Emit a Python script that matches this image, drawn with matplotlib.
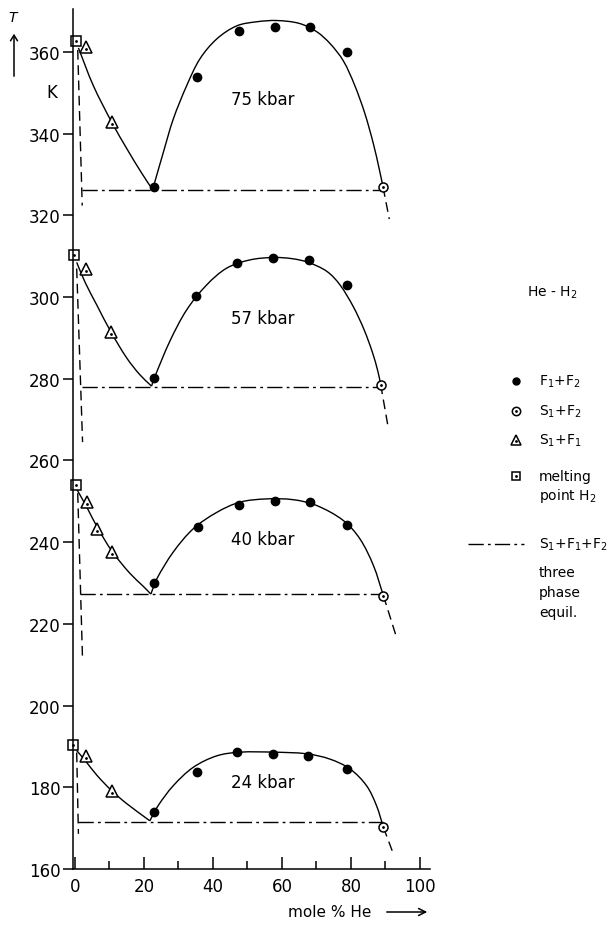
import numpy as np
import matplotlib
matplotlib.use("Agg")
import matplotlib.pyplot as plt
from matplotlib.path import Path
from matplotlib.patches import PathPatch, FancyArrowPatch
from matplotlib.lines import Line2D
from matplotlib.ticker import MultipleLocator

plt.rcParams["font.family"] = ["DejaVu Sans"]
plt.rcParams["mathtext.fontset"] = "dejavusans"

# phase diagram He-H2 at four pressures (top to bottom)
pressure_labels = ["75 kbar", "57 kbar", "40 kbar", "24 kbar"]

# melting point of pure H2
melt_x = [0.2, -0.4, 0.3, -0.6]
melt_T = [362.6, 310.2, 254.0, 190.4]

# S1 + F1 (solid H2 + H2-rich fluid)
s1f1_x = [[3.2, 10.6], [3.2, 10.4], [3.6, 6.5, 10.8], [3.1, 10.6]]
s1f1_T = [[361.2, 342.9], [306.9, 291.5], [249.9, 243.3, 237.7], [187.6, 179.2]]

# F1 + F2 (fluid-fluid demixing)
f1f2_x = [[23.0, 35.5, 47.4, 57.9, 68.1, 78.9],
          [22.9, 35.0, 47.0, 57.5, 67.7, 78.7],
          [23.0, 35.6, 47.6, 58.0, 68.1, 78.9],
          [23.0, 35.3, 47.0, 57.5, 67.6, 78.7]]
f1f2_T = [[326.9, 354.0, 365.2, 366.2, 366.2, 360.1],
          [280.1, 300.2, 308.3, 309.5, 309.1, 303.0],
          [230.0, 243.8, 249.0, 250.2, 249.8, 244.2],
          [174.0, 183.7, 188.6, 188.2, 187.6, 184.6]]

# S1 + F2
s1f2_x = [89.3, 88.6, 89.4, 89.4]
s1f2_T = [326.9, 278.6, 226.9, 170.2]

# three phase line S1 + F1 + F2
triple_T = [326.2, 278.0, 227.3, 171.5]
triple_x0 = [2.1, 1.9, 1.4, 1.0]

# solubility of He in solid H2 (dashed, near x = 0)
solidus_x = [[0.8, 2.1], [0.5, 2.2], [0.8, 2.2], [0.5, 1.0]]
solidus_T = [[360.5, 322.4], [307.0, 264.5], [252.0, 211.0], [188.5, 168.6]]

# H2-side liquidus, melting point down to the eutectic
liq_x = [[1.0, 5.3, 10.6, 15.4, 19.3, 22.5],
         [0.5, 3.0, 6.3, 10.4, 15.0, 18.8, 22.2],
         [0.5, 3.6, 6.5, 10.8, 15.9, 19.8, 22.0],
         [0.5, 3.1, 6.3, 10.6, 15.0, 21.7]]
liq_T = [[361.0, 351.8, 342.9, 335.8, 330.4, 326.3],
         [308.5, 303.5, 298.1, 291.5, 285.1, 281.0, 278.2],
         [253.0, 248.3, 243.6, 237.7, 232.4, 229.2, 227.3],
         [189.0, 186.4, 183.0, 179.2, 176.0, 171.8]]

# fluid-fluid coexistence dome
dome_x = [[22.5, 25.6, 28.5, 32.4, 36.2, 41.1, 46.9, 52.7, 58.5, 65.0, 70.0, 74.0, 77.8, 81.0, 84.0, 86.5, 88.2, 89.3],
          [22.2, 23.0, 27.5, 32.4, 38.2, 44.0, 50.7, 57.5, 63.0, 67.6, 73.0, 76.8, 80.7, 83.8, 86.2, 87.8, 88.6],
          [22.0, 23.7, 28.5, 34.3, 41.1, 47.8, 55.6, 63.3, 70.0, 77.8, 82.6, 86.5, 89.4],
          [21.7, 24.1, 28.5, 34.3, 41.1, 47.8, 57.5, 67.2, 73.9, 79.7, 84.5, 87.4, 89.4]]
dome_T = [[326.3, 335.4, 343.6, 351.8, 358.3, 363.2, 366.4, 367.4, 367.7, 367.0, 365.0, 362.0, 357.8, 352.0, 345.0, 337.5, 331.3, 326.9],
          [278.2, 280.2, 289.2, 296.9, 303.0, 307.1, 309.1, 309.7, 309.4, 308.5, 306.3, 303.0, 297.6, 292.0, 286.5, 281.8, 278.6],
          [227.3, 231.0, 237.6, 243.3, 247.3, 249.8, 250.6, 250.4, 249.0, 245.3, 240.8, 234.3, 226.9],
          [171.8, 175.5, 180.4, 184.9, 187.7, 188.6, 188.6, 188.2, 186.9, 184.5, 180.4, 175.5, 170.2]]

# dashed extension of the dome below the three phase line
tail_x = [91.1, 90.8, 93.2, 92.1]
tail_T = [319.1, 268.0, 216.7, 164.1]

label_xy = [(54.5, 348.5), (54.5, 294.9), (54.3, 240.8), (54.3, 181.3)]

W, H = 615, 928
fig = plt.figure(figsize=(W / 100, H / 100), dpi=100)
ax = fig.add_axes([72.9 / W, 58 / H, 357.1 / W, 859.9 / H])
ax.set_xlim(-0.6, 102.9)
ax.set_ylim(160, 370.5)

LW = 1.0
INK = "black"
DASH = (0, (7, 4))
DASHDOT = (0, (11, 3, 2, 3))
# rough pixels per unit, so tangents are taken in drawn space
SX, SY = 3.45, 4.085


def smooth_path(xs, ys):
    # chord-length tangents through the knots, drawn as cubic Beziers
    pts = np.column_stack([np.asarray(xs) * SX, np.asarray(ys) * SY])
    n = len(pts)
    tang = np.zeros_like(pts)
    for i in range(n):
        d = pts[min(i + 1, n - 1)] - pts[max(i - 1, 0)]
        tang[i] = d / np.hypot(*d)
    verts = [pts[0]]
    codes = [Path.MOVETO]
    for i in range(n - 1):
        L = np.hypot(*(pts[i + 1] - pts[i])) / 3.0
        verts += [pts[i] + tang[i] * L, pts[i + 1] - tang[i + 1] * L, pts[i + 1]]
        codes += [Path.CURVE4] * 3
    verts = np.array(verts) / [SX, SY]
    return Path(verts, codes)


for k in range(len(pressure_labels)):
    for xs, ys in ((liq_x[k], liq_T[k]), (dome_x[k], dome_T[k])):
        ax.add_patch(PathPatch(smooth_path(xs, ys), fill=False, lw=LW, ec=INK))
    ax.plot([s1f2_x[k], tail_x[k]], [s1f2_T[k], tail_T[k]], color=INK, lw=LW, ls=DASH)
    ax.plot(solidus_x[k], solidus_T[k], color=INK, lw=LW, ls=DASH)
    ax.plot([triple_x0[k], s1f2_x[k]], [triple_T[k], triple_T[k]], color=INK, lw=LW, ls=DASHDOT)

    ax.plot(f1f2_x[k], f1f2_T[k], "o", ms=6, color=INK, clip_on=False)
    ax.plot(s1f2_x[k], s1f2_T[k], "o", ms=6.5, mfc="white", mec=INK, mew=1.1, clip_on=False)
    ax.plot(s1f1_x[k], s1f1_T[k], "^", ms=8, mfc="white", mec=INK, mew=1.1, clip_on=False)
    ax.plot(melt_x[k], melt_T[k], "s", ms=7.5, mfc="white", mec=INK, mew=1.1, clip_on=False)
    # centre dots of the open symbols
    ax.plot([s1f2_x[k], melt_x[k]], [s1f2_T[k], melt_T[k]], ".", ms=2, color=INK, clip_on=False)
    ax.plot(s1f1_x[k], np.array(s1f1_T[k]) - 0.5, ".", ms=2, color=INK, clip_on=False)

    lx, ly = label_xy[k]
    ax.text(lx, ly, pressure_labels[k], ha="center", va="center", fontsize=12)

for side in ("top", "right"):
    ax.spines[side].set_visible(False)
for side in ("left", "bottom"):
    ax.spines[side].set_linewidth(1.1)

ax.set_yticks(np.arange(160, 361, 20))
ax.set_xticks(np.arange(0, 101, 20))
ax.xaxis.set_minor_locator(MultipleLocator(10))
ax.tick_params(axis="y", direction="out", length=7, width=1.1, labelsize=12, pad=2)
ax.tick_params(axis="x", which="major", direction="in", length=8.5, width=1.1, labelsize=12, pad=6)
ax.tick_params(axis="x", which="minor", direction="in", length=5.5, width=1.1)


def fx(px):
    return px / W


def fy(py):
    return 1 - py / H


# axis titles
fig.text(fx(13), fy(18), "T", style="italic", fontsize=10, ha="center", va="center")
fig.add_artist(FancyArrowPatch((fx(14), fy(80)), (fx(14), fy(32)), transform=fig.transFigure,
                               arrowstyle="->,head_width=2.5,head_length=4", lw=1.1, color=INK))
fig.text(fx(52), fy(93), "K", fontsize=12, ha="center", va="center")
fig.text(fx(288), fy(913), "mole % He", fontsize=11, ha="left", va="center")
fig.add_artist(FancyArrowPatch((fx(384), fy(913)), (fx(430), fy(913)), transform=fig.transFigure,
                               arrowstyle="->,head_width=2.5,head_length=5", lw=1.1, color=INK))

# legend
LFS = 10
fig.text(fx(527), fy(293), "He - H$_2$", fontsize=LFS, ha="left", va="center")
mx, tx = fx(516), fx(539)
fig.add_artist(Line2D([mx], [fy(382)], marker="o", ms=5, color=INK, transform=fig.transFigure))
fig.text(tx, fy(382), "F$_1$+F$_2$", fontsize=LFS, ha="left", va="center")
fig.add_artist(Line2D([mx], [fy(412)], marker="o", ms=6, mfc="white", mec=INK, mew=1.1, transform=fig.transFigure))
fig.add_artist(Line2D([mx], [fy(412)], marker=".", ms=2, color=INK, transform=fig.transFigure))
fig.text(tx, fy(412), "S$_1$+F$_2$", fontsize=LFS, ha="left", va="center")
fig.add_artist(Line2D([mx], [fy(441)], marker="^", ms=7, mfc="white", mec=INK, mew=1.1, transform=fig.transFigure))
fig.add_artist(Line2D([mx], [fy(441.5)], marker=".", ms=2, color=INK, transform=fig.transFigure))
fig.text(tx, fy(441), "S$_1$+F$_1$", fontsize=LFS, ha="left", va="center")
fig.add_artist(Line2D([mx], [fy(477)], marker="s", ms=6, mfc="white", mec=INK, mew=1.1, transform=fig.transFigure))
fig.add_artist(Line2D([mx], [fy(477)], marker=".", ms=2, color=INK, transform=fig.transFigure))
fig.text(tx, fy(477), "melting", fontsize=LFS, ha="left", va="center")
fig.text(tx, fy(496), "point H$_2$", fontsize=LFS, ha="left", va="center")
fig.add_artist(Line2D([fx(468), fx(524)], [fy(545), fy(545)], lw=LW, ls=DASHDOT, color=INK,
                      transform=fig.transFigure))
fig.text(tx, fy(545), "S$_1$+F$_1$+F$_2$", fontsize=LFS, ha="left", va="center")
for py, word in ((573, "three"), (593, "phase"), (613, "equil.")):
    fig.text(tx, fy(py), word, fontsize=LFS, ha="left", va="center")

fig.savefig("out.png", dpi=100)
